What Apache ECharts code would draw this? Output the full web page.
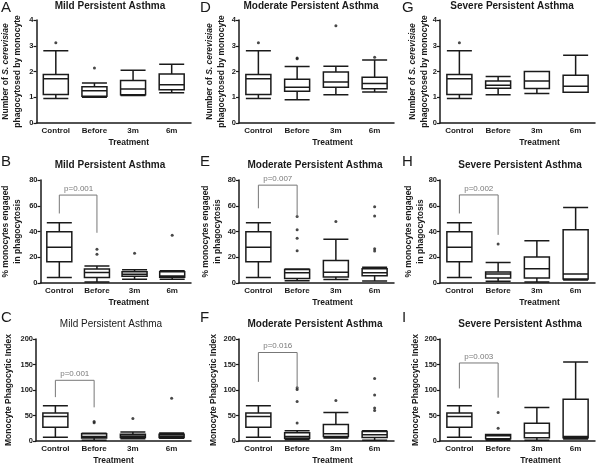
<!DOCTYPE html>
<html>
<head>
<meta charset="utf-8">
<script src="https://cdn.jsdelivr.net/npm/echarts@6/dist/echarts.min.js"></script>
<style>
html,body{margin:0;padding:0;background:#fff;}
#chart{width:600px;height:466px;}
</style>
</head>
<body>
<div id="chart"></div>
<script>
// ---------- data ----------
const categories = ['Control', 'Before', '3m', '6m'];
const columnTitles = ['Mild Persistent Asthma', 'Moderate Persistent Asthma', 'Severe Persistent Asthma'];
const panelLetters = [['A', 'D', 'G'], ['B', 'E', 'H'], ['C', 'F', 'I']];

// box data: [min, Q1, median, Q3, max] for Control, Before, 3m, 6m
const numMild     = [[0.95, 1.11, 1.72, 1.88, 2.81], [1.00, 1.04, 1.25, 1.41, 1.55], [1.07, 1.10, 1.32, 1.65, 2.05], [1.17, 1.29, 1.49, 1.90, 2.28]];
const numModerate = [[0.95, 1.11, 1.72, 1.88, 2.81], [0.90, 1.23, 1.39, 1.70, 2.19], [1.10, 1.39, 1.59, 1.98, 2.20], [1.20, 1.33, 1.53, 1.78, 2.45]];
const numSevere   = [[0.95, 1.11, 1.72, 1.88, 2.81], [1.10, 1.35, 1.47, 1.63, 1.81], [1.15, 1.34, 1.63, 2.00, 2.00], [1.19, 1.19, 1.43, 1.85, 2.63]];
const numMildOut     = [[0, 3.12], [1, 2.14]];
const numModerateOut = [[0, 3.12], [1, 2.50], [1, 2.52], [2, 3.78], [3, 2.55]];
const numSevereOut   = [[0, 3.12]];

const pctMild     = [[4.2, 16.6, 27.8, 39.8, 46.8], [0.8, 4.3, 8.2, 10.8, 13.2], [3.0, 5.2, 6.8, 8.7, 10.2], [3.0, 4.5, 5.5, 8.8, 9.5]];
const pctModerate = [[4.2, 16.6, 27.8, 39.8, 46.8], [1.8, 3.4, 8.0, 10.5, 10.8], [2.8, 4.6, 8.3, 17.5, 34.0], [1.5, 5.7, 8.0, 11.0, 12.3]];
const pctSevere   = [[4.2, 16.6, 27.8, 39.8, 46.8], [1.3, 3.9, 7.0, 8.5, 16.0], [0.8, 3.9, 11.1, 20.1, 32.8], [2.3, 3.1, 7.0, 41.3, 58.6]];
const pctMildOut     = [[1, 26.2], [1, 22.3], [2, 23.2], [3, 37.0]];
const pctModerateOut = [[1, 51.6], [1, 41.3], [1, 34.8], [1, 25.0], [2, 47.7], [3, 59.3], [3, 52.1], [3, 26.6], [3, 24.8]];
const pctSevereOut   = [[1, 30.2]];

const idxMild     = [[7.5, 27, 48, 55, 69], [1.3, 6, 9, 14, 15], [4.5, 7, 10, 13, 17.5], [5.5, 7, 10, 13, 15.5]];
const idxModerate = [[7.5, 27, 48, 55, 69], [2.6, 5.5, 9, 16, 20], [5.8, 9, 14.2, 32.3, 56], [1.3, 7, 12.3, 18.7, 20]];
const idxSevere   = [[7.5, 27, 48, 55, 69], [1.3, 4.5, 10.3, 12.9, 12.9], [1.3, 6.5, 15.5, 34.8, 65.8], [3.9, 6.5, 9, 81.9, 154.8]];
const idxMildOut     = [[1, 36], [1, 38], [2, 44], [3, 84]];
const idxModerateOut = [[1, 35.5], [1, 77.4], [1, 101], [1, 104.5], [2, 79.4], [3, 60], [3, 64.5], [3, 90.3], [3, 122.6]];
const idxSevereOut   = [[1, 56], [1, 25]];

// significance brackets: [left leg end, bracket top, right leg end], label
const pctBrackets = [[54, 68.3, 39], [58, 76, 51.6], [54, 68.4, 37.4]];
const pctPLabels  = ['p=0.001', 'p=0.007', 'p=0.002'];
const idxBrackets = [[86, 119, 66], [116, 173.5, 103], [103, 153, 85]];
const idxPLabels  = ['p=0.001', 'p=0.016', 'p=0.003'];

const yMax = [4, 80, 200];
const yInterval = [1, 20, 50];

// ---------- layout ----------
const FONT = '"Liberation Sans", Arial, sans-serif';
const colLeft = [36, 239, 440];
const plotW = 155;
const rowTop = [20, 180, 339];
const plotH = 103;
const yNameGap = [[13, 11, 6], [17, 15, 10], [21, 19, 14]];
const treatShift = [[15, 16, 22], [13, 16, 22], [0, 16, 23]];
const titleX = [[110, 311, 512], [110, 315, 520], [111, 315, 520]];
const titleY = [6, 165, 324];
const letterY = [8, 162, 318];
const letterX = [1, 200, 402];

const boxes = [[numMild, numModerate, numSevere], [pctMild, pctModerate, pctSevere], [idxMild, idxModerate, idxSevere]];
const outliers = [[numMildOut, numModerateOut, numSevereOut], [pctMildOut, pctModerateOut, pctSevereOut], [idxMildOut, idxModerateOut, idxSevereOut]];
const brackets = [null, pctBrackets, idxBrackets];
const pLabels = [null, pctPLabels, idxPLabels];

const yNames = [
  '{t|Number of }{i|S. cerevisiae}\n{t|phagocytosed by monocyte}',
  '{t|% monocytes engaged}\n{t|in phagocytosis}',
  '{t|Monocyte Phagocytic Index}'
];

const grids = [], xAxes = [], yAxes = [], series = [], graphics = [];
const ink = '#1a1a1a';

for (let r = 0; r < 3; r++) {
  for (let c = 0; c < 3; c++) {
    const gi = grids.length;
    grids.push({left: colLeft[c], top: rowTop[r], width: plotW, height: plotH});
    xAxes.push({
      type: 'category', gridIndex: gi, data: categories,
      axisLine: {lineStyle: {color: ink, width: 1.5}},
      axisTick: {alignWithLabel: true, length: 3, lineStyle: {color: ink, width: 1.2}},
      axisLabel: {fontSize: 8, fontWeight: 'bold', color: ink, margin: 4, fontFamily: FONT},
      name: 'Treatment', nameLocation: 'middle', nameGap: 15,
      nameTextStyle: {fontSize: 8.5, fontWeight: 'bold', color: ink, fontFamily: FONT,
        padding: [0, 0, 0, 2 * treatShift[r][c]]}
    });
    yAxes.push({
      type: 'value', gridIndex: gi, min: 0, max: yMax[r], interval: yInterval[r],
      axisLine: {show: true, lineStyle: {color: ink, width: 1.5}},
      axisTick: {show: true, length: 3, lineStyle: {color: ink, width: 1.2}},
      splitLine: {show: false},
      axisLabel: {fontSize: 7.5, fontWeight: 'bold', color: ink, margin: 3, fontFamily: FONT},
      name: yNames[r], nameLocation: 'middle', nameRotate: 90, nameGap: yNameGap[r][c],
      nameTextStyle: {
        color: ink, fontFamily: FONT,
        rich: {
          t: {fontSize: 8.5, fontWeight: 'bold', fontFamily: FONT, color: ink, lineHeight: 12},
          i: {fontSize: 8.5, fontWeight: 'bold', fontStyle: 'italic', fontFamily: FONT, color: ink, lineHeight: 12}
        }
      }
    });
    series.push({
      type: 'boxplot', xAxisIndex: gi, yAxisIndex: gi,
      data: boxes[r][c], boxWidth: [25, 25],
      itemStyle: {color: '#fff', borderColor: ink, borderWidth: 1.5},
      emphasis: {disabled: true}, silent: true
    });
    series.push({
      type: 'scatter', xAxisIndex: gi, yAxisIndex: gi,
      data: outliers[r][c], symbol: 'circle', symbolSize: 3,
      itemStyle: {color: ink}, silent: true
    });
    if (brackets[r]) {
      const b = brackets[r][c];
      series.push({
        type: 'line', xAxisIndex: gi, yAxisIndex: gi,
        data: [[0, b[0]], [0, b[1]], [1, b[1]], [1, b[2]]],
        symbol: 'none',
        lineStyle: {color: '#777', width: 1}, silent: true, animation: false
      });
      series.push({
        type: 'scatter', xAxisIndex: gi, yAxisIndex: gi,
        data: [[0, b[1]]],
        symbol: 'circle', symbolSize: 1,
        itemStyle: {color: 'rgba(255,255,255,0)'},
        label: {show: true, position: 'top', distance: 2, offset: [plotW / 8, 0],
          formatter: pLabels[r][c], fontSize: 8, color: '#555', fontFamily: FONT},
        silent: true, animation: false
      });
    }
    graphics.push({
      type: 'text', x: titleX[r][c], y: titleY[r],
      style: {text: columnTitles[c], align: 'center', verticalAlign: 'middle',
        fontSize: 10, fontWeight: (r === 2 && c === 0) ? 'normal' : 'bold', fontFamily: FONT, fill: ink}
    });
    graphics.push({
      type: 'text', x: letterX[c], y: letterY[r],
      style: {text: panelLetters[r][c], align: 'left', verticalAlign: 'middle',
        fontSize: 15, fontFamily: FONT, fill: ink}
    });
  }
}

const chart = echarts.init(document.getElementById('chart'), null, {renderer: 'canvas'});
chart.setOption({
  backgroundColor: '#fff',
  animation: false,
  grid: grids, xAxis: xAxes, yAxis: yAxes, series: series,
  graphic: graphics
});
</script>
</body>
</html>
